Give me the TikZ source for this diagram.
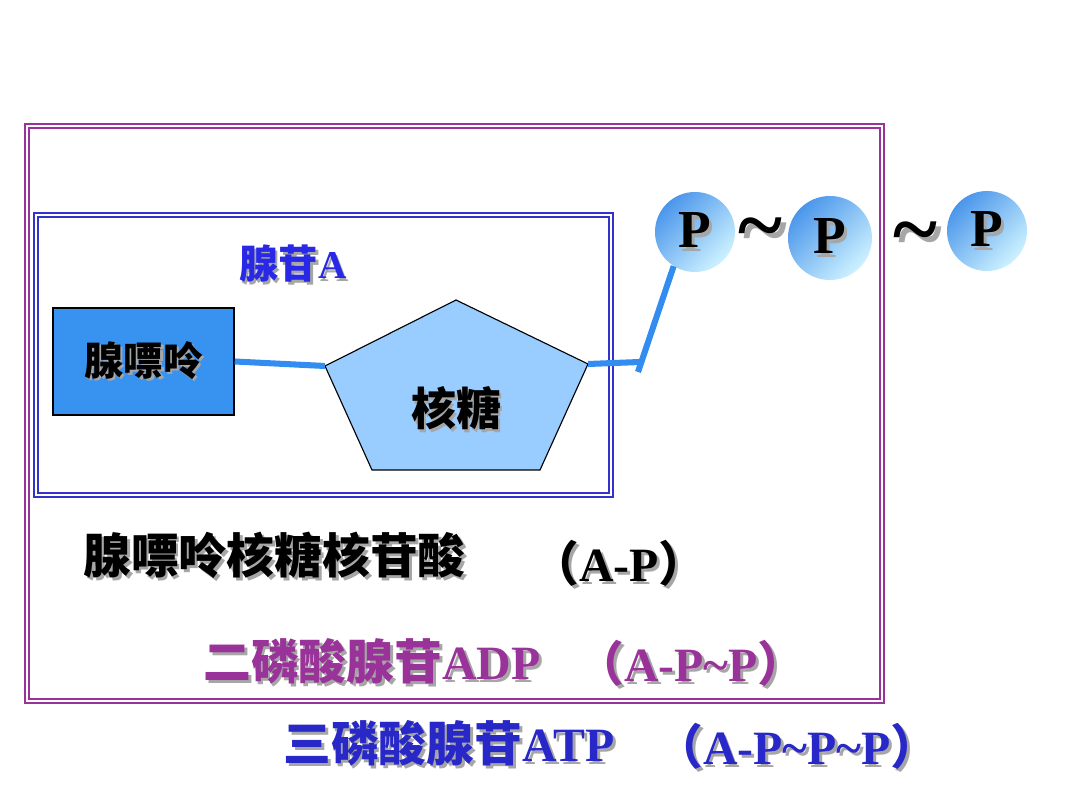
\documentclass[tikz,border=0pt]{standalone}
\usepackage{fontspec}
\setmainfont{Liberation Serif}
\newfontfamily\cjk{Noto Sans CJK SC}
\usetikzlibrary{positioning,calc}
\definecolor{frame}{RGB}{153,51,153}
\definecolor{inframe}{RGB}{51,51,204}
\definecolor{bondblue}{RGB}{51,140,240}
\definecolor{baseblue}{RGB}{56,146,240}
\definecolor{sugarblue}{RGB}{153,204,255}
\definecolor{titleblue}{RGB}{40,40,230}
\definecolor{atpblue}{RGB}{40,40,200}
\definecolor{pdark}{RGB}{75,150,235}
\definecolor{plight}{RGB}{205,242,255}
\newcommand\shtxt[1]{\makebox[0pt][l]{\hspace{0.06em}\raisebox{-0.06em}{\color{black!35}#1}}#1}

\begin{document}
\begin{tikzpicture}[x=0.025cm,y=0.025cm,
  bond/.style={bondblue, line width=4.3pt},
  phos/.style={circle, minimum size=2cm, inner sep=0pt, top color=pdark,
    middle color=plight!85!pdark, bottom color=plight, shading angle=45,
    font=\fontsize{38}{40}\selectfont\bfseries},
  lbl/.style={inner sep=0pt, font=\fontsize{34}{40}\selectfont\bfseries},
  wave/.style={inner sep=0pt, font=\fontsize{60}{60}\selectfont\bfseries}]
\useasboundingbox (0,0) rectangle (1080,810);
% frames
\draw[frame, line width=1pt] (25,107) rectangle (884,686);
\draw[frame, line width=1pt] (29,111) rectangle (880,682);
\draw[inframe, line width=1pt] (34,313) rectangle (613,597);
\draw[inframe, line width=1pt] (38,317) rectangle (609,593);
% adenosine
\node[inner sep=0pt, text=titleblue, font=\fontsize{28}{30}\selectfont\bfseries] (aden) at (293,545) {\shtxt{{\cjk 腺苷}A}};
\node[draw=black, line width=1pt, fill=baseblue, minimum width=4.525cm, minimum height=2.675cm,
  font=\fontsize{28}{30}\selectfont\bfseries] (base) at (143.5,448.5) {\shtxt{\cjk 腺嘌呤}};
\coordinate (st) at (456,510);
\coordinate (sl) at (325,444);
\coordinate (sr) at (588,446);
\coordinate (sbl) at (372,340);
\coordinate (sbr) at (540,340);
\draw[fill=sugarblue, line width=0.8pt] (st) -- (sr) -- (sbr) -- (sbl) -- (sl) -- cycle;
\node[font=\fontsize{32}{34}\selectfont\bfseries] (sugar) at (456,400) {\shtxt{\cjk 核糖}};
% phosphates
\node[phos] (p1) at (695,578) {\shtxt{P}};
\node[phos, minimum size=2.1cm] (p2) at (830,572) {\shtxt{P}};
\node[phos] (p3) at (987,579) {\shtxt{P}};
\node[wave] (w1) at (760,572) {\shtxt{\textasciitilde}};
\node[wave] (w2) at (915,568) {\shtxt{\textasciitilde}};
% bonds
\coordinate (kink) at (640,448);
\draw[bond] (base.east) -- (sl);
\draw[bond] (sr) -- (kink);
\draw[bond] ($(kink)+(-2,-10)$) -- (p1.238);
% captions
\node[lbl, anchor=west] (amp) at (83,253) {\shtxt{\cjk 腺嘌呤核糖核苷酸}};
\node[lbl] (ampf) at (619,245) {\shtxt{{\cjk （}A-P{\cjk ）}}};
\node[lbl, anchor=west, text=frame] (adp) at (203,147) {\shtxt{{\cjk 二磷酸腺苷}ADP}};
\node[lbl, text=frame] (adpf) at (691,145) {\shtxt{{\cjk （}A-P\textasciitilde P{\cjk ）}}};
\node[lbl, anchor=west, text=atpblue] (atp) at (283,65) {\shtxt{{\cjk 三磷酸腺苷}ATP}};
\node[lbl, text=atpblue] (atpf) at (797,62) {\shtxt{{\cjk （}A-P\textasciitilde P\textasciitilde P{\cjk ）}}};
\end{tikzpicture}
\end{document}
